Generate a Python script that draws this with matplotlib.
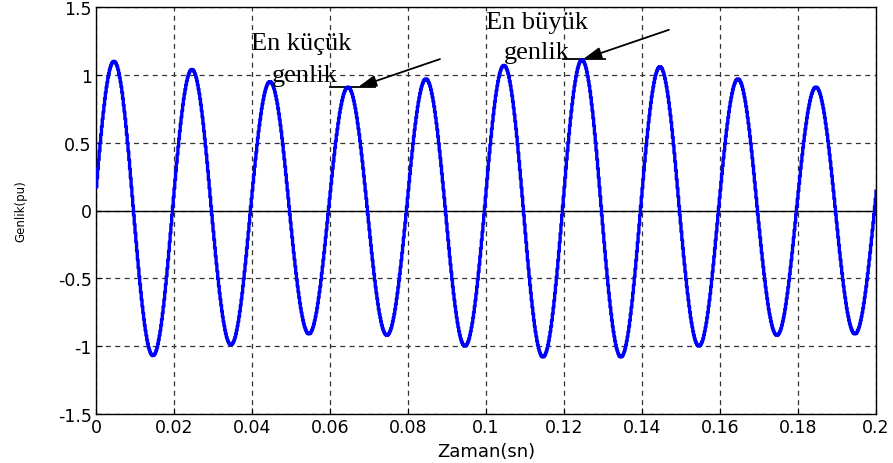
import numpy as np
import matplotlib
matplotlib.use("Agg")
import matplotlib.pyplot as plt

# peak / trough values of each cycle (50 Hz, 10 cycles)
peaks = [1.10, 1.04, 0.95, 0.91, 0.97, 1.07, 1.11, 1.06, 0.97, 0.91]
troughs = [-1.07, -0.99, -0.91, -0.92, -1.00, -1.08, -1.08, -1.00, -0.92, -0.91]
f = 50.0
t_zero = -0.0005   # first upward zero crossing
dt = 0.0002

xticks = [0, 0.02, 0.04, 0.06, 0.08, 0.1, 0.12, 0.14, 0.16, 0.18, 0.2]
xticklabels = ["0", "0.02", "0.04", "0.06", "0.08", "0.1", "0.12", "0.14", "0.16", "0.18", "0.2"]
yticks = [-1.5, -1, -0.5, 0, 0.5, 1, 1.5]
yticklabels = ["-1.5", "-1", "-0.5", "0", "0.5", "1", "1.5"]

# half-cycle amplitudes: +, -, +, - ...
amps = np.ravel(np.column_stack([peaks, np.abs(troughs)]))
t = np.arange(0, 0.2 + dt / 2, dt)
k = np.clip(np.floor((t - t_zero) * 2 * f).astype(int), 0, len(amps) - 1)
v = amps[k] * np.sin(2 * np.pi * f * (t - t_zero))

fig = plt.figure(figsize=(8.93, 4.64), dpi=100)
ax = fig.add_axes([96 / 893, 1 - 415 / 464, 780 / 893, 407 / 464])

ax.plot(t, v, color="#0000ff", lw=2.4, drawstyle="steps-post", zorder=3)
ax.axhline(0, color="black", lw=1.0, zorder=2)

ax.set_xlim(0, 0.2)
ax.set_ylim(-1.5, 1.5)
ax.set_xticks(xticks)
ax.set_xticklabels(xticklabels)
ax.set_yticks(yticks)
ax.set_yticklabels(yticklabels)
ax.tick_params(direction="in", labelsize=12.5, length=4, pad=3)
ax.grid(True, color="#333333", linestyle=(0, (4, 3.5)), lw=0.9)
for s in ax.spines.values():
    s.set_linewidth(1.0)

ax.set_xlabel("Zaman(sn)", fontsize=13, labelpad=4)
ax.set_ylabel("Genlik(pu)", fontsize=8.5, family="Liberation Sans Narrow", labelpad=22)

# annotations
serif = "Liberation Serif"
ax.text(0.0525, 1.235, "En küçük", fontsize=19, family=serif, ha="center", va="center")
ax.text(0.0535, 1.0, "genlik", fontsize=19, family=serif, ha="center", va="center")
ax.plot([0.060, 0.0715], [0.91, 0.91], color="black", lw=1.3)
ax.annotate("", xy=(0.0672, 0.91), xytext=(0.0882, 1.116),
            arrowprops=dict(arrowstyle="-|>,head_length=1.1,head_width=0.35",
                            color="black", lw=1.3, shrinkA=0, shrinkB=0))

ax.text(0.1131, 1.39, "En büyük", fontsize=19, family=serif, ha="center", va="center")
ax.text(0.1131, 1.17, "genlik", fontsize=19, family=serif, ha="center", va="center")
ax.plot([0.1197, 0.1305], [1.12, 1.12], color="black", lw=1.3)
ax.annotate("", xy=(0.1249, 1.116), xytext=(0.1469, 1.332),
            arrowprops=dict(arrowstyle="-|>,head_length=1.1,head_width=0.35",
                            color="black", lw=1.3, shrinkA=0, shrinkB=0))

fig.savefig("out.png", dpi=100)
